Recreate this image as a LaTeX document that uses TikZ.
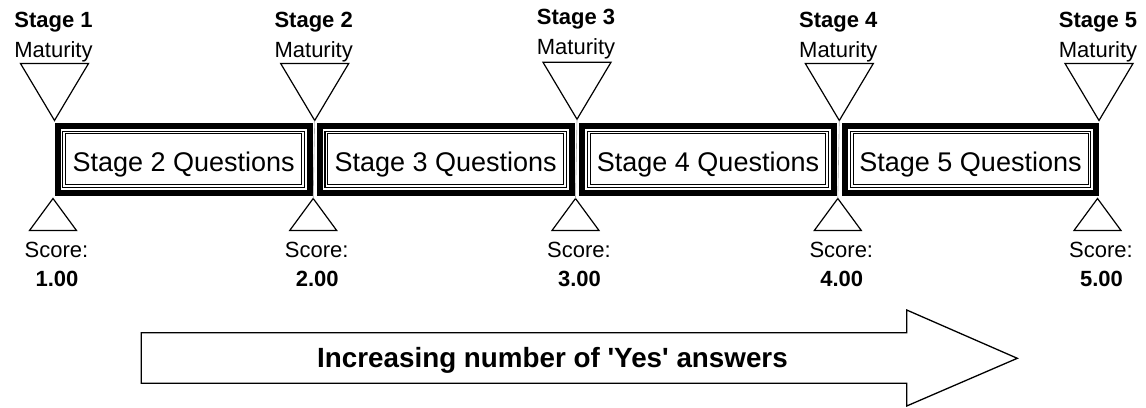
\documentclass[tikz,border=0pt]{standalone}
\usepackage{fontspec}
\setmainfont{Liberation Sans}[Ligatures=TeXOff]
\begin{document}
\begin{tikzpicture}[x=1pt,y=-1pt,
  thickframe/.style={line width=6pt},
  thinframeA/.style={line width=1.3pt},
  thinframeB/.style={line width=1pt},
  marker/.style={draw=black,line width=1.2pt,line join=miter},
  divider/.style={draw=black!35,line width=0.6pt},
  boxtext/.style={anchor=base,inner sep=0pt,font=\fontsize{27}{32}\selectfont},
  stagelbl/.style={anchor=base,inner sep=0pt,font=\fontsize{22}{26}\selectfont\bfseries},
  plainlbl/.style={anchor=base,inner sep=0pt,font=\fontsize{22}{26}\selectfont},
  arrowtext/.style={anchor=base,inner sep=0pt,font=\fontsize{27.8}{32}\selectfont\bfseries},
  bigarrow/.style={draw=black,line width=1.3pt,fill=white,line join=miter}]
\useasboundingbox (0,0) rectangle (1146,407);

% question boxes with a thick outer frame and two thin inner frames
\foreach \a/\b/\t in {54.5/312.7/2, 316.7/574.7/3, 579.3/836.7/4, 842/1099/5}{
  \draw[thickframe] ({\a+3},125.7) rectangle ({\b-3},193);
  \draw[thinframeA] ({\a+8.3},131.2) rectangle ({\b-8.3},187.5);
  \draw[thinframeB] ({\a+11},133.9) rectangle ({\b-11},184.8);
  \node[boxtext] (q\t) at ({(\a+\b)/2},171.5) {Stage \t\ Questions};
}

% stage markers: maturity triangle above, score triangle below
% (\d lifts the upper marker of a stage slightly)
\foreach \x/\i/\d in {54.5/1/0, 314.7/2/0, 577/3/2.5, 839.3/4/0, 1099/5/0}{
  \node[stagelbl] (st\i) at ({\x-1},{27-\d}) {Stage \i};
  \node[plainlbl] (mat\i) at ({\x-1},{57-\d}) {Maturity};
  \coordinate (top\i) at (\x,{120.5-\d/2});
  \coordinate (bot\i) at ({\x-1.5},198.5);
  \draw[marker] ({\x-34},{63.5-\d/2}) -- ({\x+34},{63.5-\d/2}) -- (top\i) -- cycle;
  \draw[marker] (bot\i) -- ({\x+22},230.5) -- ({\x-25},230.5) -- cycle;
  \node[plainlbl] (sc\i) at ({\x+2},257) {Score:};
  \node[stagelbl] (val\i) at ({\x+2.5},286) {\i.00};
}
\foreach \i in {2,3,4}{
  \draw[divider] (top\i) -- (bot\i);
}

% direction arrow
\draw[bigarrow] (141.3,332.7) -- (906.7,332.7) -- (906.7,310) -- (1017.3,358.3)
  -- (906.7,406) -- (906.7,383.3) -- (141.3,383.3) -- cycle;
\node[arrowtext] (dir) at (552.5,367) {Increasing number of 'Yes' answers};
\end{tikzpicture}
\end{document}
